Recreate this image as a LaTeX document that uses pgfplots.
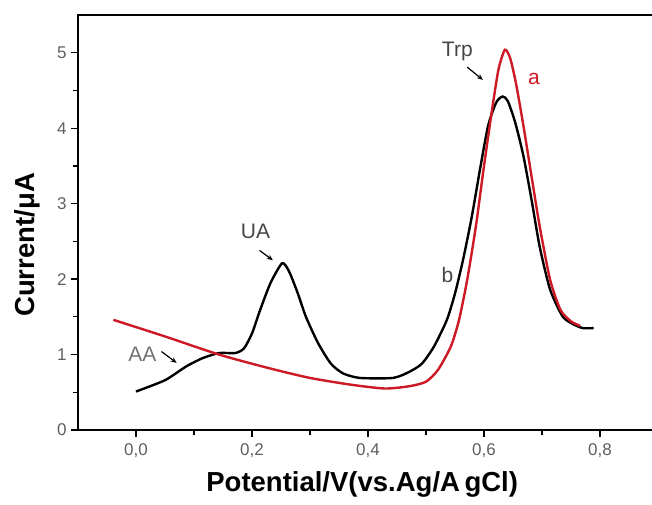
\documentclass[border=0pt]{standalone}
\usepackage{fontspec}
\setmainfont{Liberation Sans}
\usepackage{pgfplots}
\pgfplotsset{compat=1.18}
\usetikzlibrary{arrows.meta}
\definecolor{curvered}{RGB}{205,25,35}
\definecolor{tickgray}{RGB}{95,95,95}
\definecolor{notegray}{RGB}{70,70,70}

\begin{document}
\begin{tikzpicture}
\begin{axis}[
  scale only axis,
  width=580pt, height=415pt,
  xmin=-0.1, xmax=0.9, ymin=0, ymax=5.5,
  xtick={0,0.2,0.4,0.6,0.8},
  minor xtick={0.1,0.3,0.5,0.7},
  ytick={0,1,2,3,4,5},
  minor ytick={0.5,1.5,2.5,3.5,4.5},
  xtick pos=bottom, ytick pos=left,
  tick align=outside,
  major tick length=7pt, minor tick length=5pt,
  every tick/.style={black, line width=1.3pt},
  axis line style={line width=1.5pt},
  /pgf/number format/assume math mode=true,
  ticklabel style={font=\fontsize{17}{19}\selectfont, text=tickgray},
  xticklabel style={yshift=-3pt, /pgf/number format/.cd, fixed, fixed zerofill, precision=1, use comma},
  yticklabel style={xshift=-1pt},
  label style={font=\fontsize{27.5}{30}\selectfont\bfseries},
  xlabel={Potential/V(vs.Ag/A\,gCl)},
  ylabel={Current/μA},
  xlabel style={at={(axis description cs:0.49,-0.13)}, anchor=center},
  ylabel style={at={(axis description cs:-0.088,0.446)}, anchor=center},
]
% curve b (black)
\addplot[black, line width=2.4pt, smooth, tension=0.4] coordinates {
  (0.000,0.51) (0.050,0.66) (0.086,0.84) (0.114,0.95) (0.143,1.02)
  (0.171,1.02) (0.186,1.08) (0.200,1.28) (0.214,1.59) (0.232,1.95)
  (0.252,2.21) (0.264,2.10) (0.279,1.81) (0.293,1.50) (0.314,1.15)
  (0.336,0.88) (0.357,0.75) (0.386,0.69) (0.443,0.69) (0.471,0.77)
  (0.493,0.88) (0.514,1.11) (0.536,1.46) (0.550,1.81) (0.564,2.26)
  (0.579,2.83) (0.593,3.45) (0.607,4.03) (0.621,4.34) (0.632,4.42)
  (0.641,4.36) (0.654,4.07) (0.668,3.63) (0.682,3.05) (0.696,2.43)
  (0.714,1.86) (0.736,1.50) (0.757,1.39) (0.771,1.35) (0.789,1.35)
};
% curve a (red)
\addplot[curvered, line width=2.4pt, smooth, tension=0.4] coordinates {
  (-0.039,1.46) (0.050,1.24) (0.143,1.00) (0.229,0.82) (0.300,0.69)
  (0.371,0.60) (0.429,0.55) (0.471,0.58) (0.500,0.64) (0.521,0.80)
  (0.543,1.11) (0.557,1.46) (0.571,1.99) (0.586,2.70) (0.600,3.50)
  (0.614,4.25) (0.625,4.78) (0.636,5.04) (0.645,4.93) (0.655,4.60)
  (0.668,4.03) (0.682,3.36) (0.696,2.70) (0.714,1.99) (0.732,1.59)
  (0.750,1.44) (0.766,1.38)
};
% annotations
\node[text=black!55, font=\fontsize{21}{23}\selectfont] at (axis cs:0.011,1.01) {AA};
\draw[black, line width=1.2pt, -{Stealth[length=6pt,width=5pt]}] (axis cs:0.044,1.04) -- (axis cs:0.070,0.89);
\node[text=notegray, font=\fontsize{21}{23}\selectfont] at (axis cs:0.206,2.63) {UA};
\draw[black, line width=1.2pt, -{Stealth[length=6pt,width=5pt]}] (axis cs:0.213,2.38) -- (axis cs:0.236,2.25);
\node[text=notegray, font=\fontsize{21}{23}\selectfont] at (axis cs:0.554,5.02) {Trp};
\draw[black, line width=1.2pt, -{Stealth[length=6pt,width=5pt]}] (axis cs:0.571,4.81) -- (axis cs:0.598,4.64);
\node[text=curvered, font=\fontsize{21}{23}\selectfont] at (axis cs:0.686,4.65) {a};
\node[text=notegray, font=\fontsize{21}{23}\selectfont] at (axis cs:0.537,2.05) {b};
\end{axis}
\pgfresetboundingbox
\path (-78pt,-74pt) rectangle (574pt,430pt);
\end{tikzpicture}
\end{document}
